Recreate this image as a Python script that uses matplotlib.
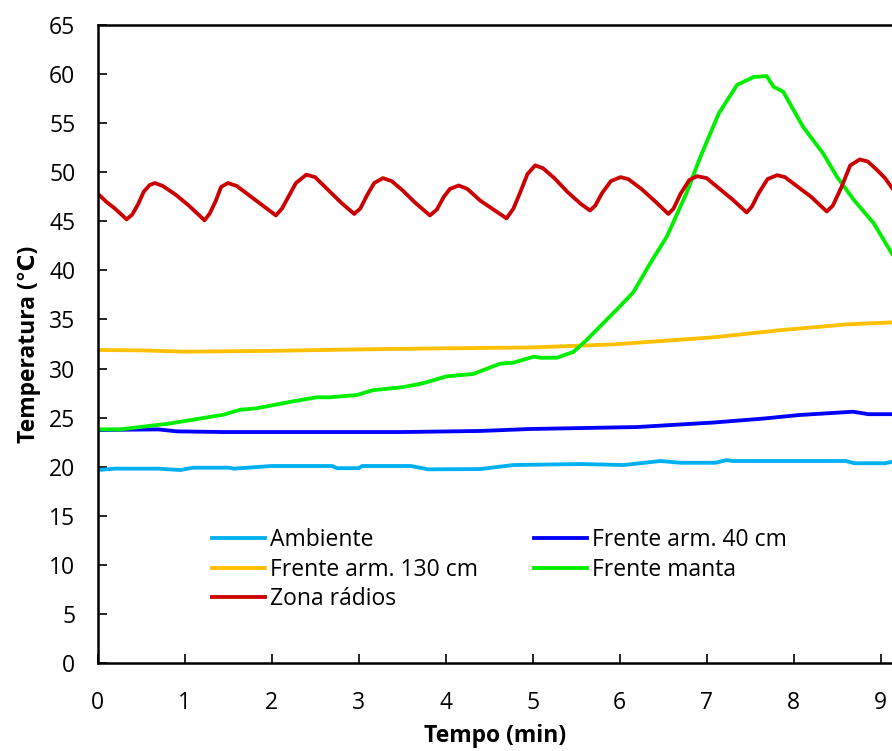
import matplotlib
matplotlib.use('Agg')
import matplotlib.pyplot as plt

plt.rcParams['font.family'] = ['Open Sans', 'DejaVu Sans']

# ── Data (time in min, temperature in °C) ─────────────────────────────────────
t_amb = [0, 0.2, 0.7, 0.95, 1.1, 1.5, 1.57, 2.0, 2.7, 2.75, 3.0, 3.04, 3.6,
         3.8, 4.4, 4.78, 5.55, 6.05, 6.47, 6.7, 7.1, 7.23, 7.3, 8.6, 8.7, 9.05, 9.13]
y_amb = [19.66, 19.8, 19.8, 19.66, 19.9, 19.9, 19.8, 20.07, 20.07, 19.85, 19.85,
         20.07, 20.07, 19.73, 19.76, 20.17, 20.27, 20.17, 20.58, 20.4, 20.4,
         20.67, 20.58, 20.58, 20.35, 20.35, 20.5]

t_40 = [0, 0.7, 0.91, 1.45, 2.5, 3.5, 4.4, 4.97, 6.2, 7.08, 7.65, 8.07, 8.68,
        8.86, 9.13]
y_40 = [23.74, 23.8, 23.6, 23.53, 23.53, 23.53, 23.64, 23.84, 24.04, 24.5,
        24.9, 25.27, 25.6, 25.35, 25.35]

t_130 = [0, 0.5, 1.0, 2.0, 3.0, 4.0, 5.0, 5.93, 7.08, 7.84, 8.61, 9.13]
y_130 = [31.89, 31.85, 31.72, 31.8, 31.95, 32.06, 32.15, 32.46, 33.18, 33.9,
         34.5, 34.7]

t_manta = [0, 0.26, 0.83, 1.45, 1.64, 1.83, 2.21, 2.52, 2.67, 2.98, 3.17, 3.51,
           3.74, 4.01, 4.32, 4.51, 4.63, 4.78, 5.01, 5.09, 5.28, 5.47, 5.62,
           5.81, 6.0, 6.16, 6.35, 6.54, 6.77, 6.93, 7.14, 7.35, 7.54, 7.69,
           7.77, 7.88, 8.11, 8.34, 8.5, 8.69, 8.92, 9.13]
y_manta = [23.8, 23.8, 24.4, 25.3, 25.8, 25.95, 26.6, 27.07, 27.07, 27.3, 27.8,
           28.1, 28.5, 29.2, 29.45, 30.1, 30.5, 30.6, 31.2, 31.1, 31.1, 31.7,
           32.9, 34.6, 36.3, 37.8, 40.7, 43.4, 47.9, 51.6, 56.0, 58.9, 59.7,
           59.8, 58.7, 58.2, 54.6, 51.9, 49.5, 47.2, 44.8, 41.7]

t_zona = [0, 0.1, 0.2, 0.335, 0.4, 0.47, 0.53, 0.6, 0.66, 0.75, 0.9, 1.05,
          1.23, 1.29, 1.36, 1.42, 1.5, 1.6, 1.75, 1.9, 2.05, 2.12, 2.2, 2.28,
          2.4, 2.5, 2.65, 2.8, 2.95, 3.02, 3.1, 3.18, 3.28, 3.38, 3.5, 3.65,
          3.82, 3.9, 3.98, 4.05, 4.15, 4.25, 4.4, 4.55, 4.7, 4.78, 4.86, 4.94,
          5.03, 5.12, 5.25, 5.4, 5.55, 5.66, 5.72, 5.8, 5.9, 6.01, 6.1, 6.25,
          6.4, 6.56, 6.62, 6.7, 6.8, 6.89, 7.0, 7.15, 7.3, 7.46, 7.52, 7.6,
          7.7, 7.81, 7.9, 8.05, 8.2, 8.38, 8.45, 8.55, 8.65, 8.76, 8.85, 8.95,
          9.05, 9.13]
y_zona = [47.85, 47.0, 46.3, 45.2, 45.7, 46.8, 48.0, 48.7, 48.9, 48.6, 47.7,
          46.6, 45.1, 45.8, 47.1, 48.5, 48.9, 48.6, 47.6, 46.6, 45.6, 46.3,
          47.6, 48.9, 49.75, 49.5, 48.2, 46.9, 45.75, 46.3, 47.7, 48.9, 49.4,
          49.1, 48.2, 46.9, 45.6, 46.2, 47.5, 48.3, 48.65, 48.3, 47.1, 46.2,
          45.3, 46.3, 48.0, 49.8, 50.7, 50.4, 49.4, 48.0, 46.8, 46.1, 46.6,
          47.9, 49.1, 49.5, 49.3, 48.3, 47.1, 45.75, 46.3, 47.8, 49.2, 49.6,
          49.4, 48.3, 47.2, 45.9, 46.5, 47.9, 49.3, 49.7, 49.5, 48.5, 47.5,
          46.0, 46.6, 48.5, 50.7, 51.3, 51.1, 50.3, 49.4, 48.4]

x_ticks = list(range(0, 10))
y_ticks = list(range(0, 70, 5))

# ── Figure ────────────────────────────────────────────────────────────────────
W, H = 892, 751
fig = plt.figure(figsize=(W / 100, H / 100), dpi=100)
left, bottom, top = 97.5, 663, 25
ax = fig.add_axes([left / W, (H - bottom) / H, (W - left) / W, (bottom - top) / H])

lw = 2.75
l_amb, = ax.plot(t_amb, y_amb, color='#00B0F0', lw=lw, label='Ambiente')
l_40, = ax.plot(t_40, y_40, color='#0000FF', lw=lw, label='Frente arm. 40 cm')
l_130, = ax.plot(t_130, y_130, color='#FFC000', lw=lw, label='Frente arm. 130 cm')
l_manta, = ax.plot(t_manta, y_manta, color='#00EE00', lw=lw, label='Frente manta')
l_zona, = ax.plot(t_zona, y_zona, color='#CC0000', lw=lw, label='Zona rádios')

ax.set_xlim(0, 9.13)
ax.set_ylim(0, 65)
ax.set_xticks(x_ticks)
ax.set_yticks(y_ticks)
ax.spines['right'].set_visible(False)
for s in ('left', 'bottom', 'top'):
    ax.spines[s].set_linewidth(1.8)
fs = 16.5
ax.tick_params(axis='both', direction='in', length=6.5, width=1.2,
               labelsize=fs, colors='black')
ax.tick_params(axis='x', pad=20)
ax.tick_params(axis='y', pad=16)

ax.set_xlabel('Tempo (min)', fontsize=fs, fontweight='bold', labelpad=7)
ax.set_ylabel('Temperatura (℃)', fontsize=fs, fontweight='bold', labelpad=6)

handles = [l_amb, l_130, l_zona, l_40, l_manta]
ax.legend(handles=handles, labels=[h.get_label() for h in handles], ncol=2,
          loc='upper left', bbox_to_anchor=(0.144, 0.211), frameon=False,
          fontsize=fs, handlelength=2.3, handletextpad=0.22,
          columnspacing=2.46, labelspacing=0.23, borderpad=0, borderaxespad=0)

fig.savefig('out.png', dpi=100)
